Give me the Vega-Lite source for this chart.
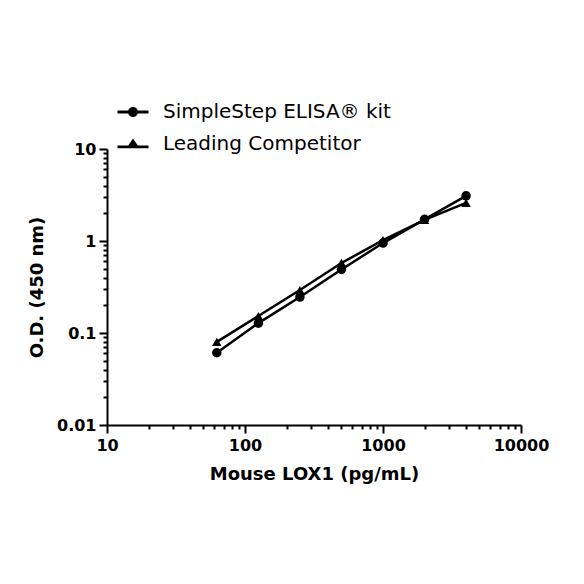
{
  "$schema": "https://vega.github.io/schema/vega-lite/v6.json",
  "width": 414,
  "height": 276,
  "autosize": {"type": "none"},
  "padding": {"left": 107, "top": 149, "right": 63, "bottom": 159},
  "background": "white",
  "config": {
    "view": {"stroke": null},
    "font": "DejaVu Sans"
  },
  "data": {
    "values": [
      {"conc": 62.5, "od": 0.061, "series": "SimpleStep ELISA® kit"},
      {"conc": 125, "od": 0.128, "series": "SimpleStep ELISA® kit"},
      {"conc": 250, "od": 0.246, "series": "SimpleStep ELISA® kit"},
      {"conc": 500, "od": 0.49, "series": "SimpleStep ELISA® kit"},
      {"conc": 1000, "od": 0.95, "series": "SimpleStep ELISA® kit"},
      {"conc": 2000, "od": 1.72, "series": "SimpleStep ELISA® kit"},
      {"conc": 4000, "od": 3.1, "series": "SimpleStep ELISA® kit"},
      {"conc": 62.5, "od": 0.08, "series": "Leading Competitor"},
      {"conc": 125, "od": 0.153, "series": "Leading Competitor"},
      {"conc": 250, "od": 0.293, "series": "Leading Competitor"},
      {"conc": 500, "od": 0.577, "series": "Leading Competitor"},
      {"conc": 1000, "od": 1.02, "series": "Leading Competitor"},
      {"conc": 2000, "od": 1.7, "series": "Leading Competitor"},
      {"conc": 4000, "od": 2.6, "series": "Leading Competitor"}
    ]
  },
  "encoding": {
    "x": {
      "field": "conc", "type": "quantitative",
      "scale": {"type": "log", "domain": [10, 10000], "nice": false},
      "axis": {
        "title": "Mouse LOX1 (pg/mL)",
        "values": [10, 20, 30, 40, 50, 60, 70, 80, 90, 100, 200, 300, 400, 500, 600, 700, 800, 900, 1000, 2000, 3000, 4000, 5000, 6000, 7000, 8000, 9000, 10000],
        "labelExpr": "(datum.value == 10 || datum.value == 100 || datum.value == 1000 || datum.value == 10000) ? '' + datum.value : ''",
        "tickSize": {"condition": {"test": "datum.value == 10 || datum.value == 100 || datum.value == 1000 || datum.value == 10000", "value": 8}, "value": 4},
        "domainColor": "black", "domainWidth": 2,
        "tickColor": "black", "tickWidth": 2,
        "labelColor": "black", "labelFont": "DejaVu Sans", "labelFontWeight": "bold", "labelFontSize": 16,
        "labelPadding": 4, "labelOverlap": false, "labelFlush": false,
        "titleColor": "black", "titleFont": "DejaVu Sans", "titleFontWeight": "bold", "titleFontSize": 18, "titlePadding": 12,
        "grid": false
      }
    },
    "y": {
      "field": "od", "type": "quantitative",
      "scale": {"type": "log", "domain": [0.01, 10], "nice": false},
      "axis": {
        "title": "O.D. (450 nm)",
        "values": [0.01, 0.02, 0.03, 0.04, 0.05, 0.06, 0.07, 0.08, 0.09, 0.1, 0.2, 0.3, 0.4, 0.5, 0.6, 0.7, 0.8, 0.9, 1, 2, 3, 4, 5, 6, 7, 8, 9, 10],
        "labelExpr": "(datum.value == 0.01 || datum.value == 0.1 || datum.value == 1 || datum.value == 10) ? '' + datum.value : ''",
        "tickSize": {"condition": {"test": "datum.value == 0.01 || datum.value == 0.1 || datum.value == 1 || datum.value == 10", "value": 8}, "value": 4},
        "domainColor": "black", "domainWidth": 2,
        "tickColor": "black", "tickWidth": 2,
        "labelColor": "black", "labelFont": "DejaVu Sans", "labelFontWeight": "bold", "labelFontSize": 16,
        "labelPadding": 3, "labelOverlap": false, "labelFlush": false,
        "titleColor": "black", "titleFont": "DejaVu Sans", "titleFontWeight": "bold", "titleFontSize": 18, "titlePadding": 10,
        "grid": false
      }
    }
  },
  "layer": [
    {
      "mark": {"type": "line", "color": "black", "strokeWidth": 2.5},
      "encoding": {"detail": {"field": "series"}}
    },
    {
      "mark": {"type": "point", "filled": true, "color": "black", "opacity": 1, "size": 90},
      "encoding": {
        "shape": {
          "field": "series", "type": "nominal",
          "scale": {"domain": ["SimpleStep ELISA® kit", "Leading Competitor"], "range": ["circle", "triangle-up"]},
          "legend": null
        }
      }
    },
    {
      "transform": [{"filter": "false"}],
      "mark": {"type": "point", "filled": true, "color": "black", "opacity": 1, "size": 100},
      "encoding": {
        "shape": {
          "field": "series", "type": "nominal",
          "scale": {"domain": ["SimpleStep ELISA® kit", "Leading Competitor"], "range": ["M-3.1,-0.28H3.1V0.28H-3.1Z M1,0A1,1 0 1,1 -1,0A1,1 0 1,1 1,0Z", "M-3.1,0.3H3.1V0.86H-3.1Z M0,-1.1L1.15,0.6L-1.15,0.6Z"]},
          "legend": {
            "title": null,
            "orient": "none",
            "legendX": 16,
            "legendY": -47,
            "symbolSize": 100,
            "symbolOpacity": 1,
            "labelFont": "DejaVu Sans",
            "labelFontSize": 20,
            "labelColor": "black",
            "labelOffset": 20,
            "rowPadding": 12,
            "labelLimit": 400
          }
        }
      }
    }
  ],
  "resolve": {"scale": {"shape": "independent"}}
}
